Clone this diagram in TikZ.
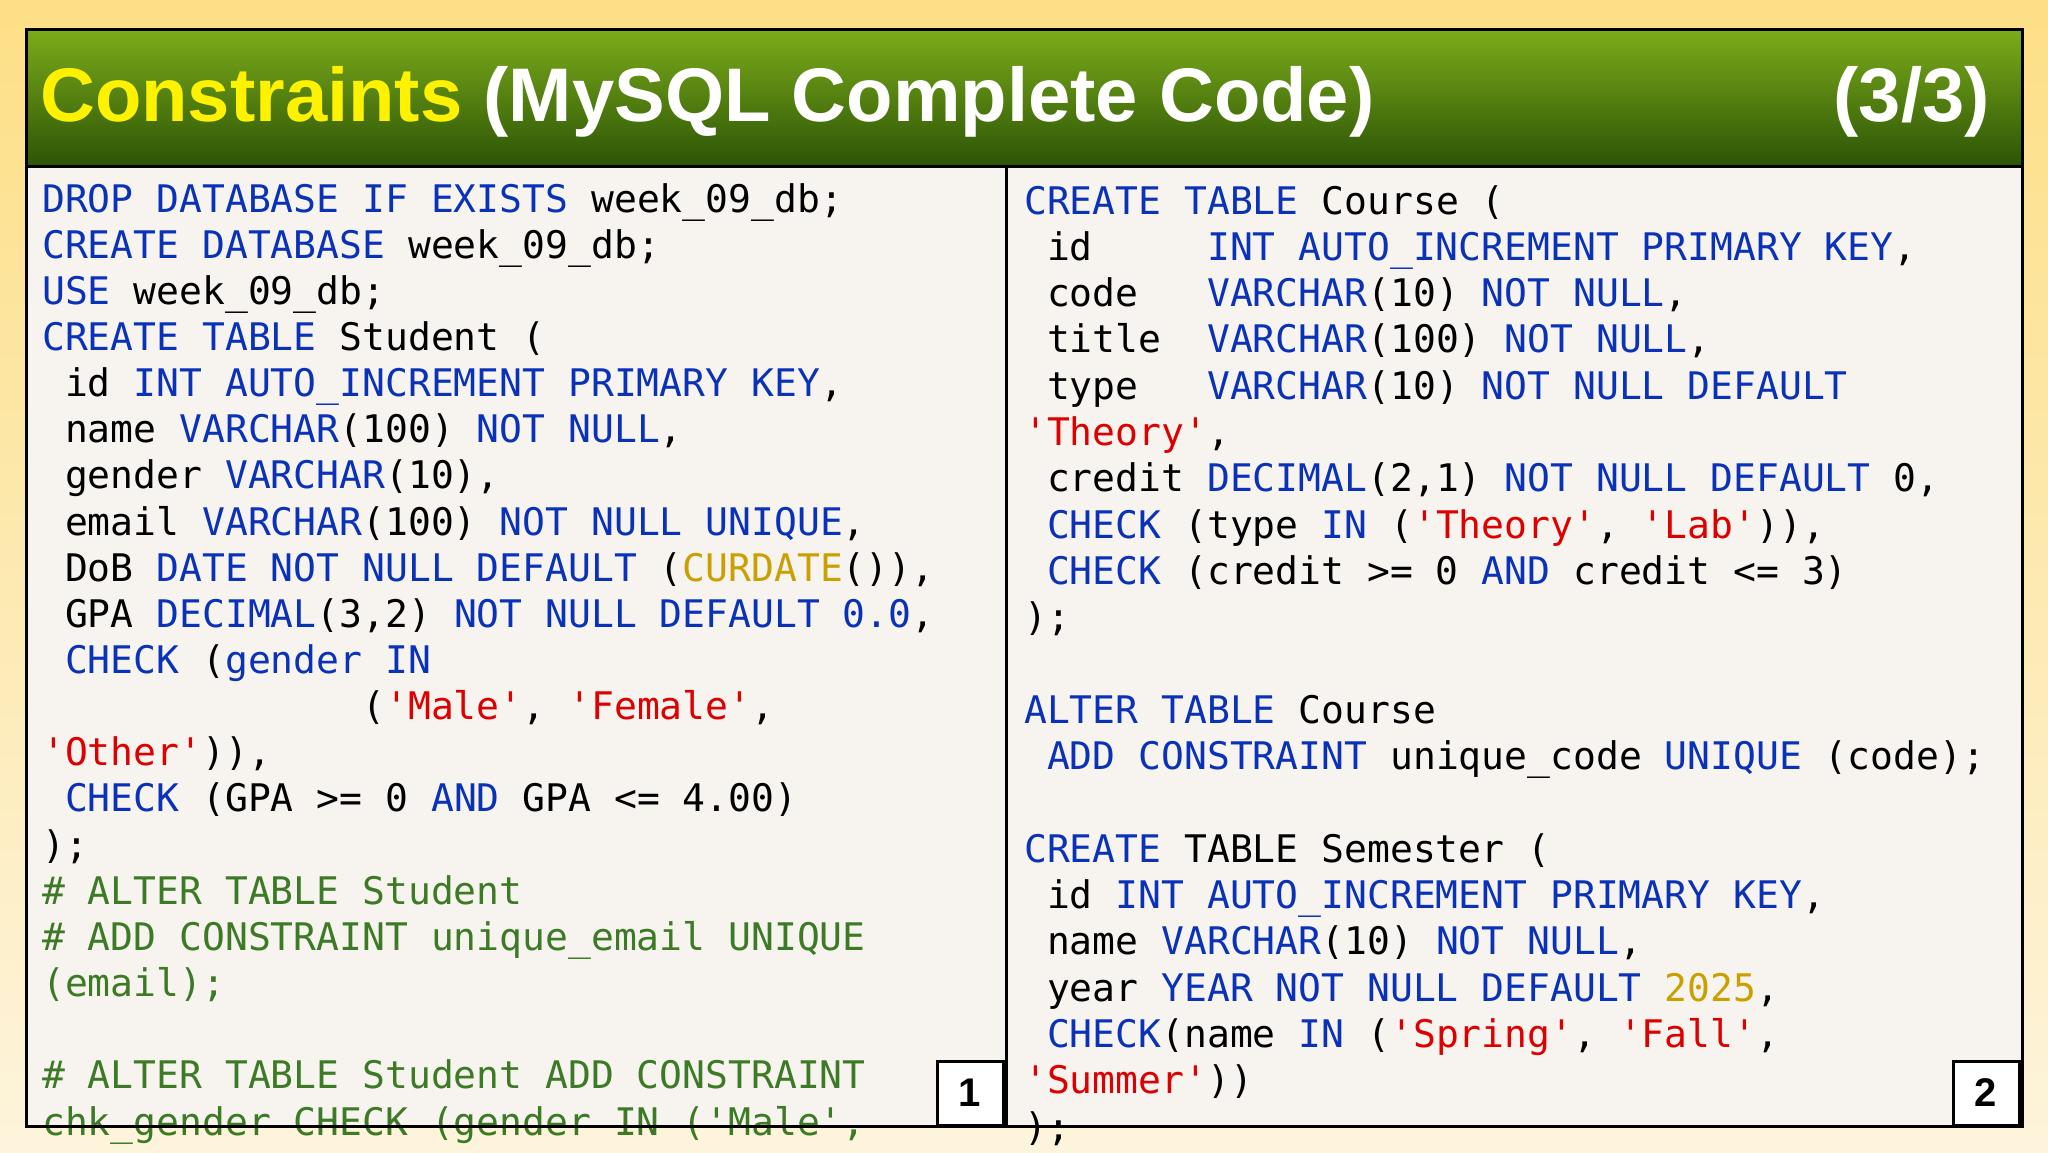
\documentclass[tikz,border=0pt]{standalone}
\usepackage{fontspec}
\setmainfont{Liberation Sans}
\newfontfamily\codefont{DejaVu Sans Mono}
\definecolor{kwc}{HTML}{0A32B8}
\definecolor{stc}{HTML}{DD0000}
\definecolor{gdc}{HTML}{C9A000}
\definecolor{cmc}{HTML}{3C7A25}
\definecolor{panelc}{HTML}{F7F3EF}
\newcommand\kw[1]{\textcolor{kwc}{#1}}
\newcommand\st[1]{\textcolor{stc}{#1}}
\newcommand\gd[1]{\textcolor{gdc}{#1}}
\newcommand\cm[1]{\textcolor{cmc}{#1}}
\newcommand\ind[1]{\hspace*{#1\fontcharwd\font`0}}
\begin{document}
\begin{tikzpicture}[x=1pt,y=-1pt,
  code/.style={anchor=base west,inner sep=0pt,font=\codefont\fontsize{38}{46}\selectfont},
  numbox/.style={draw=black,line width=3pt,fill=white,minimum width=66pt,minimum height=64pt,inner sep=0pt,font=\bfseries\fontsize{40}{40}\selectfont}]
\useasboundingbox (0,0) rectangle (2048,1152);
\shade[top color={rgb,255:red,253;green,223;blue,134},bottom color={rgb,255:red,253;green,244;blue,220}] (0,0) rectangle (2048,1152);
% title bar
\shade[top color={rgb,255:red,124;green,172;blue,26},bottom color={rgb,255:red,44;green,84;blue,6}] (26,29) rectangle (2022,166);
\node[anchor=west,inner sep=0pt,font=\bfseries\fontsize{76}{76}\selectfont] (title) at (40,102) {\textcolor{yellow}{Constraints} \textcolor{white}{(MySQL Complete Code)}};
\node[anchor=east,inner sep=0pt,font=\bfseries\fontsize{76}{76}\selectfont,text=white] (page) at (1990,102) {(3/3)};
% panels
\fill[panelc] (26,166) rectangle (2022,1126);
\begin{scope}
\clip (0,166) rectangle (1006,1152);
\foreach \t [count=\i from 0] in {
 {\kw{DROP DATABASE IF EXISTS} week\_09\_db;},
 {\kw{CREATE DATABASE} week\_09\_db;},
 {\kw{USE} week\_09\_db;},
 {\kw{CREATE TABLE} Student (},
 {\ind1id \kw{INT AUTO\_INCREMENT PRIMARY KEY},},
 {\ind1name \kw{VARCHAR}(100) \kw{NOT NULL},},
 {\ind1gender \kw{VARCHAR}(10),},
 {\ind1email \kw{VARCHAR}(100) \kw{NOT NULL UNIQUE},},
 {\ind1DoB \kw{DATE NOT NULL DEFAULT} (\gd{CURDATE}()),},
 {\ind1GPA \kw{DECIMAL}(3,2) \kw{NOT NULL DEFAULT 0.0},},
 {\ind1\kw{CHECK} (\kw{gender IN}},
 {\ind{14}(\st{'Male'}, \st{'Female'},},
 {\st{'Other'})),},
 {\ind1\kw{CHECK} (GPA >= 0 \kw{AND} GPA <= 4.00)},
 {);},
 {\cm{\# ALTER TABLE Student}},
 {\cm{\# ADD CONSTRAINT unique\_email UNIQUE}},
 {\cm{(email);}},
 {},
 {\cm{\# ALTER TABLE Student ADD CONSTRAINT}},
 {\cm{chk\_gender CHECK (gender IN ('Male',}}}
 \node[code] (l\i) at (42,{212+46.15*\i}) {\t};
\end{scope}
\begin{scope}
\clip (1006,166) rectangle (2048,1152);
\foreach \t [count=\i from 0] in {
 {\kw{CREATE TABLE} Course (},
 {\ind1id\ind5\kw{INT AUTO\_INCREMENT PRIMARY KEY},},
 {\ind1code\ind3\kw{VARCHAR}(10) \kw{NOT NULL},},
 {\ind1title\ind2\kw{VARCHAR}(100) \kw{NOT NULL},},
 {\ind1type\ind3\kw{VARCHAR}(10) \kw{NOT NULL DEFAULT}},
 {\st{'Theory'},},
 {\ind1credit \kw{DECIMAL}(2,1) \kw{NOT NULL DEFAULT} 0,},
 {\ind1\kw{CHECK} (type \kw{IN} (\st{'Theory'}, \st{'Lab'})),},
 {\ind1\kw{CHECK} (credit >= 0 \kw{AND} credit <= 3)},
 {);},
 {},
 {\kw{ALTER TABLE} Course},
 {\ind1\kw{ADD CONSTRAINT} unique\_code \kw{UNIQUE} (code);},
 {},
 {\kw{CREATE} TABLE Semester (},
 {\ind1id \kw{INT AUTO\_INCREMENT PRIMARY KEY},},
 {\ind1name \kw{VARCHAR}(10) \kw{NOT NULL},},
 {\ind1year \kw{YEAR NOT NULL DEFAULT} \gd{2025},},
 {\ind1\kw{CHECK}(name \kw{IN} (\st{'Spring'}, \st{'Fall'},},
 {\st{'Summer'}))},
 {);}}
 \node[code] (r\i) at (1024,{214+46.3*\i}) {\t};
\end{scope}
% borders
\draw[line width=3pt] (26,29) rectangle (2022,1126);
\draw[line width=3pt] (26,166) -- (2022,166);
\draw[line width=3pt] (1006,166) -- (1006,1126);
\node[numbox] (n1) at (970,1093) {1};
\node[numbox] (n2) at (1986,1093) {2};
\end{tikzpicture}
\end{document}
